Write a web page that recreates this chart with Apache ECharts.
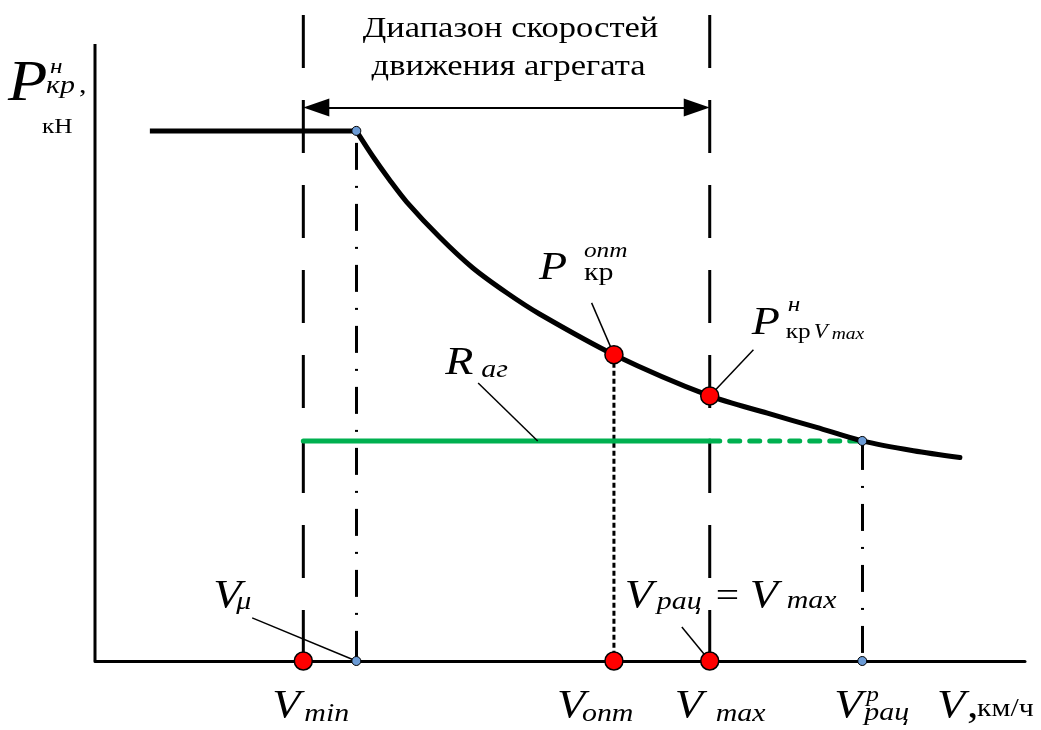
<!DOCTYPE html>
<html>
<head>
<meta charset="utf-8">
<script src="https://cdn.jsdelivr.net/npm/echarts@6/dist/echarts.min.js"></script>
<style>
  html, body { margin: 0; padding: 0; background: #fff; }
  #chart { width: 1041px; height: 730px; }
</style>
</head>
<body>
<div id="chart"></div>
<script>
// Characteristic speeds on the V axis, km/h (schematic units)
const vMin = 2.24;
const vMu = 2.81;
const vOpt = 5.58;
const vMax = 6.61;
const vRacP = 8.25;
const vAxisEnd = 10;

// Nominal drawbar pull plateau (limited by adhesion)
const flatV = [0.59, 2.81];
const pNom = 8.60;

// Nominal drawbar pull curve beyond V_mu, kN (schematic units)
const curveV = [2.81, 2.99, 3.17, 3.35, 3.71, 4.06, 4.43, 4.78, 5.58, 6.61, 7.23, 7.76, 8.25, 8.80, 9.30];
const curveP = [8.60, 8.18, 7.80, 7.45, 6.87, 6.38, 5.97, 5.63, 4.97, 4.30, 4.02, 3.79, 3.57, 3.41, 3.30];

// Working points
const pOpt = 4.97;
const pVmax = 4.30;
const rAg = 3.57;

// Level of the speed range arrow and top of the range boundaries
const arrowLevel = 8.98;
const rangeTop = 10.48;
const yAxisTop = 10.01;

const SERIF = 'Liberation Serif';
const BLACK = '#000';
const GREEN = '#00b050';
const RED = '#ff0000';
const BLUE = '#6b9bd6';

const chart = echarts.init(document.getElementById('chart'), null, { renderer: 'canvas' });

function seg(points, style, z) {
  return {
    type: 'line',
    data: points,
    symbol: 'none',
    clip: false,
    silent: true,
    z: z || 2,
    lineStyle: Object.assign({ color: BLACK, width: 3, cap: 'butt' }, style)
  };
}

const pxPerUnitX = 930 / vAxisEnd;
const arrowInset = 13 / pxPerUnitX;

const option = {
  animation: false,
  backgroundColor: '#fff',
  grid: { left: 95, right: 16, top: 15, bottom: 69 },
  xAxis: {
    type: 'value', min: 0, max: vAxisEnd,
    axisLine: { show: true, lineStyle: { color: BLACK, width: 3 } },
    axisTick: { show: false }, axisLabel: { show: false }, splitLine: { show: false }
  },
  yAxis: {
    type: 'value', min: 0, max: rangeTop,
    axisLine: { show: false }, axisTick: { show: false },
    axisLabel: { show: false }, splitLine: { show: false }
  },
  series: [
    // vertical axis with the speed range arrow
    Object.assign(seg([[0, 0], [0, yAxisTop]], { width: 3 }), {
      markLine: {
        silent: true,
        symbol: ['triangle', 'triangle'],
        symbolSize: [18, 26],
        label: { show: false },
        lineStyle: { color: BLACK, width: 2, type: 'solid' },
        data: [[
          { coord: [vMin + arrowInset, arrowLevel] },
          { coord: [vMax - arrowInset, arrowLevel] }
        ]]
      }
    }),
    // boundaries of the speed range
    seg([[vMin, rangeTop], [vMin, 0]], { width: 3, type: [53, 32] }),
    seg([[vMax, rangeTop], [vMax, 0]], { width: 3, type: [53, 32] }),
    // projection of the optimum point
    seg([[vOpt, pOpt], [vOpt, 0]], { width: 3, type: [5, 3] }),
    // aggregate resistance R_ag
    seg([[vMin, rAg], [vMax, rAg]], { color: GREEN, width: 5, cap: 'round' }, 3),
    seg([[vMax, rAg], [vRacP, rAg]], { color: GREEN, width: 5, cap: 'round', type: [10, 10] }, 3),
    // nominal drawbar pull: plateau and hyperbolic branch
    seg([[flatV[0], pNom], [flatV[1], pNom]], { width: 5 }, 4),
    Object.assign(seg(curveV.map((v, i) => [v, curveP[i]]), { width: 5, join: 'round', cap: 'round' }, 4), {
      smooth: 0.3
    }),
    // leader lines of the labels
    {
      type: 'line', data: [], silent: true, z: 5,
      markLine: {
        silent: true, symbol: ['none', 'none'], label: { show: false },
        lineStyle: { color: BLACK, width: 1.5, type: 'solid' },
        data: [
          [{ coord: [1.69, 0.70] }, { coord: [vMu, 0] }],
          [{ coord: [5.30, -0.44] }, { coord: [vOpt, 0] }],
          [{ coord: [6.31, 0.55] }, { coord: [vMax, 0] }],
          [{ coord: [5.34, 5.81] }, { coord: [vOpt, pOpt] }],
          [{ coord: [7.08, 5.05] }, { coord: [vMax, pVmax] }],
          [{ coord: [4.12, 4.51] }, { coord: [4.76, rAg] }]
        ]
      }
    },
    // key speeds and working points
    {
      type: 'scatter', silent: true, z: 10, symbolSize: 18,
      itemStyle: { color: RED, borderColor: BLACK, borderWidth: 1.5, opacity: 1 },
      data: [[vMin, 0], [vOpt, 0], [vMax, 0], [vOpt, pOpt], [vMax, pVmax]]
    },
    {
      type: 'scatter', silent: true, z: 10, symbolSize: 9,
      itemStyle: { color: BLUE, borderColor: BLACK, borderWidth: 1, opacity: 1 },
      data: [[vMu, pNom], [vMu, 0], [vRacP, rAg], [vRacP, 0]]
    }
  ]
};

chart.setOption(option);

const toPx = (pt) => chart.convertToPixel({ gridIndex: 0 }, pt);

// Dash-dot projection (px pattern: long dash, gap, dot, gap) drawn as solid pieces
function dashDotPieces(v, pTop, pBottom, lead) {
  const pattern = [27, 16, 2, 16];
  const a = toPx([v, pTop]);
  const b = toPx([v, pBottom]);
  const x = Math.round(a[0]) + 0.5;
  const pieces = [];
  let y = a[1] + lead;
  let k = 0;
  while (y < b[1]) {
    const len = pattern[k % 4];
    if (k % 2 === 0) {
      pieces.push({
        type: 'rect', silent: true, z: 3,
        shape: { x: x - 1.5, y: y, width: 3, height: Math.min(len, b[1] - y) },
        style: { fill: BLACK }
      });
    }
    y += len;
    k++;
  }
  return pieces;
}

// Text fragments placed relative to points on the chart (offsets in px to the text baseline)
const SCALE_X = 1.15;
function txt(anchor, dx, dy, text, size, italic, align) {
  const p = toPx(anchor);
  return {
    type: 'text',
    x: p[0] + dx,
    y: p[1] + dy - 0.3375 * size,
    scaleX: SCALE_X,
    silent: true,
    z: 20,
    style: {
      text: text,
      fontFamily: SERIF,
      fontSize: size,
      fontStyle: italic ? 'italic' : 'normal',
      fill: BLACK,
      align: align || 'left',
      verticalAlign: 'middle'
    }
  };
}

const M = 40, S = 26, SUP = 22;
const onAxis = (v) => [v, 0];
const graphics = [].concat(
  dashDotPieces(vMu, pNom, 0, 12),
  dashDotPieces(vRacP, rAg, 0, 2),
  [
    // vertical axis title
    txt([0, 10], -87, 60, 'P', 56, true),
    txt([0, 10], -45, 30, 'н', SUP, true),
    txt([0, 10], -49, 50, 'кр', S, true),
    txt([0, 10], -16, 50, ',', S, false),
    txt([0, 10], -53, 90, 'кН', 22, false),
    // speed range caption
    txt([(vMin + vMax) / 2, arrowLevel], 4, -68, 'Диапазон скоростей', 30, false, 'center'),
    txt([(vMin + vMax) / 2, arrowLevel], 2, -30, 'движения агрегата', 30, false, 'center'),
    // speeds under the axis
    txt(onAxis(vMin), -31, 59, 'V', M, true),
    txt(onAxis(vMin), 1, 62, 'min', S, true),
    txt(onAxis(vOpt), -57, 59, 'V', M, true),
    txt(onAxis(vOpt), -32, 62, 'опт', S, true),
    txt(onAxis(vMax), -35, 59, 'V', M, true),
    txt(onAxis(vMax), 6, 62, 'max', S, true),
    txt(onAxis(vRacP), -28, 59, 'V', M, true),
    txt(onAxis(vRacP), 4, 42, 'p', SUP, true),
    txt(onAxis(vRacP), 2, 61, 'рац', S, true),
    txt(onAxis(vAxisEnd), -88, 59, 'V', M, true),
    txt(onAxis(vAxisEnd), -58, 59, ',', M, false),
    txt(onAxis(vAxisEnd), -48, 57, 'км/ч', 26, false),
    // speeds above the axis
    txt(onAxis(vMu), -143, -51, 'V', M, true),
    txt(onAxis(vMu), -120, -50, 'μ', S, true),
    txt(onAxis(vMax), -85, -51, 'V', M, true),
    txt(onAxis(vMax), -53, -50, 'рац', S, true),
    txt(onAxis(vMax), 6, -51, '=', 36, false),
    txt(onAxis(vMax), 40, -51, 'V', M, true),
    txt(onAxis(vMax), 77, -51, 'max', S, true),
    // drawbar pull at the optimum speed
    txt([vOpt, pOpt], -75, -73, 'P', M, true),
    txt([vOpt, pOpt], -30, -96, 'опт', SUP, true),
    txt([vOpt, pOpt], -30, -73, 'кр', S, false),
    // nominal drawbar pull at V_max
    txt([vMax, pVmax], 42, -59, 'P', M, true),
    txt([vMax, pVmax], 78, -83, 'н', SUP, true),
    txt([vMax, pVmax], 76, -56, 'кр', 22, false),
    txt([vMax, pVmax], 104, -56, 'V', 20, true),
    txt([vMax, pVmax], 122, -56, 'max', 17, true),
    // aggregate resistance
    txt([vMin, rAg], 142, -64, 'R', M, true),
    txt([vMin, rAg], 178, -62, 'аг', S, true)
  ]
);

chart.setOption({ graphic: graphics });
</script>
</body>
</html>
